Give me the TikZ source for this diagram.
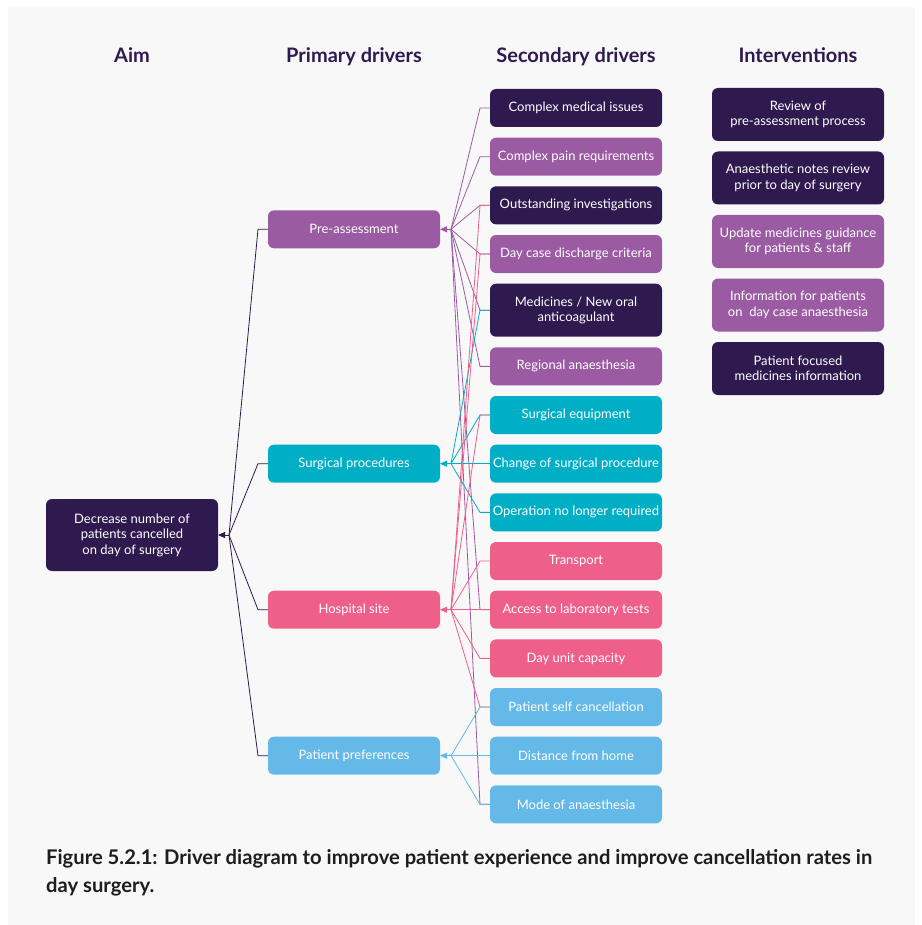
\documentclass[tikz,border=0pt]{standalone}
\usepackage{fontspec}
\setmainfont{Lato}
\usetikzlibrary{arrows.meta, positioning}

\definecolor{aimdark}{HTML}{2E1A4F}
\definecolor{drvpurple}{HTML}{9B5BA2}
\definecolor{drvcyan}{HTML}{00AFC6}
\definecolor{drvpink}{HTML}{EE5F8A}
\definecolor{drvblue}{HTML}{64B9E8}
\definecolor{panelgrey}{HTML}{F8F8F8}
\definecolor{captext}{HTML}{1D1D1B}

\begin{document}
\begin{tikzpicture}[
  x=1pt, y=1pt,
  font=\fontsize{13}{15.5}\selectfont,
  every node/.style={align=center},
  block/.style={rounded corners=6pt, text=white, minimum width=172pt, minimum height=38pt, inner sep=1pt, outer sep=0pt},
  tall/.style={minimum height=53pt},
  head/.style={font=\fontsize{20}{24}\selectfont\bfseries, text=aimdark, anchor=base},
  link/.style={line width=0.8pt},
  tip/.style={-{Triangle[length=7pt,width=6pt]}},
]

% background panel
\fill[white] (0,0) rectangle (921,-925);
\fill[panelgrey] (8,-7) rectangle (915,-925);
\useasboundingbox (0,0) rectangle (921,-925);

% column headings
\node [head] (h_aim) at (132,-63) {Aim};
\node [head] (h_prim) at (354,-63) {Primary drivers};
\node [head] (h_sec) at (576,-63) {Secondary drivers};
\node [head] (h_int) at (798,-63) {Interventions};

% Secondary drivers
\node [block, fill=aimdark] (cmi) at (576,-108) {Complex medical issues};
\node [block, fill=drvpurple, below=10.67pt of cmi] (cpr) {Complex pain requirements};
\node [block, fill=aimdark, below=10.67pt of cpr] (oi) {Outstanding investigations};
\node [block, fill=drvpurple, below=10.67pt of oi] (dcd) {Day case discharge criteria};
\node [block, tall, fill=aimdark, below=10.67pt of dcd] (med) {Medicines / New oral \\ anticoagulant};
\node [block, fill=drvpurple, below=10.67pt of med] (reg) {Regional anaesthesia};
\node [block, fill=drvcyan, below=10.67pt of reg] (seq) {Surgical equipment};
\node [block, fill=drvcyan, below=10.67pt of seq] (csp) {Change of surgical procedure};
\node [block, fill=drvcyan, below=10.67pt of csp] (onl) {Operation no longer required};
\node [block, fill=drvpink, below=10.67pt of onl] (tra) {Transport};
\node [block, fill=drvpink, below=10.67pt of tra] (alt) {Access to laboratory tests};
\node [block, fill=drvpink, below=10.67pt of alt] (duc) {Day unit capacity};
\node [block, fill=drvblue, below=10.67pt of duc] (psc) {Patient self cancellation};
\node [block, fill=drvblue, below=10.67pt of psc] (dfh) {Distance from home};
\node [block, fill=drvblue, below=10.67pt of dfh] (moa) {Mode of anaesthesia};

% Primary drivers
\node [block, fill=drvpurple] (pre) at (354,-229.3) {Pre-assessment};
\node [block, fill=drvcyan, left=50pt of csp] (surg) {Surgical procedures};
\node [block, fill=drvpink, left=50pt of alt] (hosp) {Hospital site};
\node [block, fill=drvblue, left=50pt of dfh] (pref) {Patient preferences};

% Aim
\node [block, minimum height=72pt, fill=aimdark] (aim) at (132,-535) {Decrease number of \\ patients cancelled \\ on day of surgery};

% Interventions
\node [block, tall, fill=aimdark] (int1) at (798,-114.5) {Review of \\ pre-assessment process};
\node [block, tall, fill=aimdark, below=10.5pt of int1] (int2) {Anaesthetic notes review \\ prior to day of surgery};
\node [block, tall, fill=drvpurple, below=10.5pt of int2] (int3) {Update medicines guidance \\ for patients \& staff};
\node [block, tall, fill=drvpurple, below=10.5pt of int3] (int4) {Information for patients \\ on\ \ day case anaesthesia};
\node [block, tall, fill=aimdark, below=10.5pt of int4] (int5) {Patient focused \\ medicines information};

% junction points in front of the arrow tips
\coordinate (aim_j) at ([xshift=11pt]aim.east);
\coordinate (pre_j) at ([xshift=11pt]pre.east);
\coordinate (surg_j) at ([xshift=11pt]surg.east);
\coordinate (hosp_j) at ([xshift=11pt]hosp.east);
\coordinate (pref_j) at ([xshift=11pt]pref.east);

% Pre-assessment links
\draw[link, drvpurple] (cmi.west) -- ++(-10,0) -- (pre_j);
\draw[link, drvpurple] (cpr.west) -- ++(-10,0) -- (pre_j);
\draw[link, drvpurple] (oi.west) -- ++(-10,0) -- (pre_j);
\draw[link, drvpurple] (dcd.west) -- ++(-10,0) -- (pre_j);
\draw[link, drvpurple] (med.west) -- ++(-10,0) -- (pre_j);
\draw[link, drvpurple] (reg.west) -- ++(-10,0) -- (pre_j);
\draw[link, drvpurple] (alt.west) -- ++(-10,0) -- (pre_j);
\draw[link, drvpurple] (moa.west) -- ++(-10,0) -- (pre_j);
\draw[link, drvpurple, tip] (pre_j) -- (pre.east);

% Surgical procedures links
\draw[link, drvcyan] (med.west) -- ++(-10,0) -- (surg_j);
\draw[link, drvcyan] (seq.west) -- ++(-10,0) -- (surg_j);
\draw[link, drvcyan] (csp.west) -- ++(-10,0) -- (surg_j);
\draw[link, drvcyan] (onl.west) -- ++(-10,0) -- (surg_j);
\draw[link, drvcyan, tip] (surg_j) -- (surg.east);

% Hospital site links
\draw[link, drvpink] (oi.west) -- ++(-10,0) -- (hosp_j);
\draw[link, drvpink] (dcd.west) -- ++(-10,0) -- (hosp_j);
\draw[link, drvpink] (seq.west) -- ++(-10,0) -- (hosp_j);
\draw[link, drvpink] (tra.west) -- ++(-10,0) -- (hosp_j);
\draw[link, drvpink] (alt.west) -- ++(-10,0) -- (hosp_j);
\draw[link, drvpink] (duc.west) -- ++(-10,0) -- (hosp_j);
\draw[link, drvpink] (psc.west) -- ++(-10,0) -- (hosp_j);
\draw[link, drvpink, tip] (hosp_j) -- (hosp.east);

% Patient preferences links
\draw[link, drvblue] (psc.west) -- ++(-10,0) -- (pref_j);
\draw[link, drvblue] (dfh.west) -- ++(-10,0) -- (pref_j);
\draw[link, drvblue] (moa.west) -- ++(-10,0) -- (pref_j);
\draw[link, drvblue, tip] (pref_j) -- (pref.east);

% Aim links
\draw[link, aimdark] (pre.west) -- ++(-10,0) -- (aim_j);
\draw[link, aimdark] (surg.west) -- ++(-10,0) -- (aim_j);
\draw[link, aimdark] (hosp.west) -- ++(-10,0) -- (aim_j);
\draw[link, aimdark] (pref.west) -- ++(-10,0) -- (aim_j);
\draw[link, aimdark, tip] (aim_j) -- (aim.east);

% caption
\node [anchor=north west, align=left, inner sep=0pt, text=captext, font=\fontsize{20.2}{28}\selectfont\bfseries] (caption) at (46,-849)
  {Figure 5.2.1: Driver diagram to improve patient experience and improve cancellation rates in \\ day surgery.};

\end{tikzpicture}
\end{document}
